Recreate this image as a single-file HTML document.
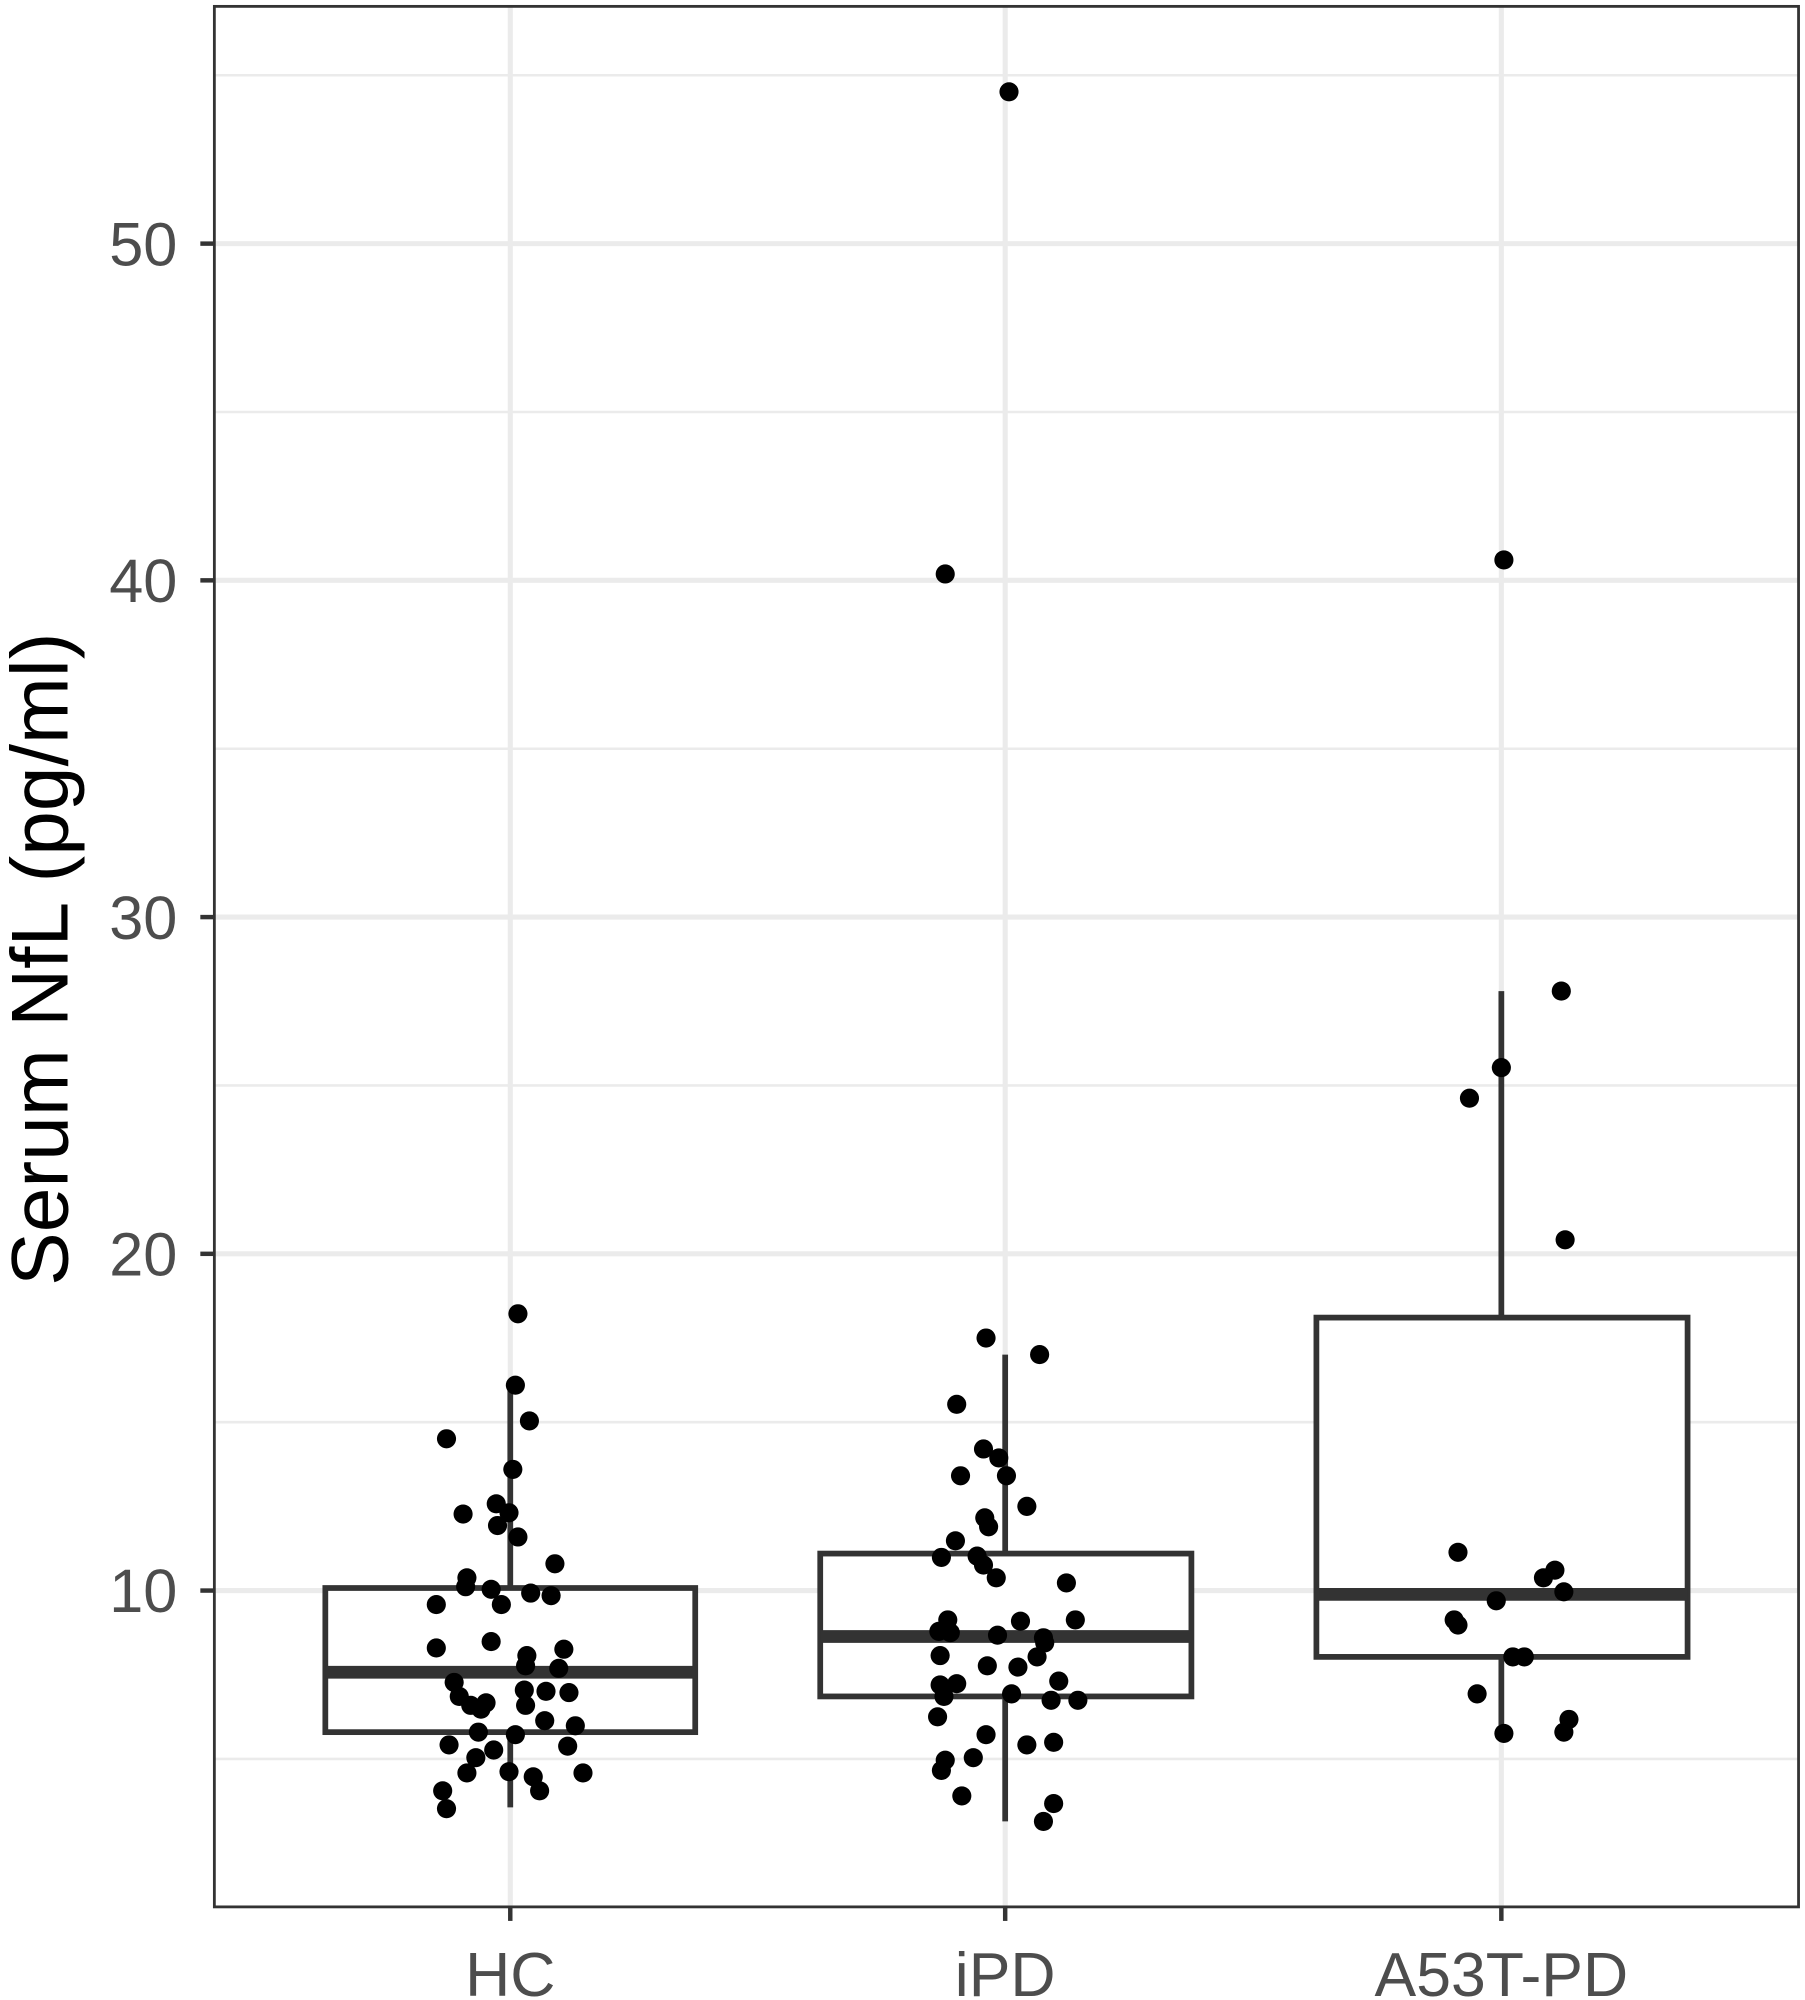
<!DOCTYPE html>
<html><head><style>html,body{margin:0;padding:0;background:#fff}svg{display:block}</style></head>
<body>
<svg width="1805" height="2000" viewBox="0 0 1415 1568" xmlns="http://www.w3.org/2000/svg" font-family="Liberation Sans, sans-serif">
<rect width="1415" height="1568" fill="#fff"/>
<g stroke="#ebebeb" stroke-width="2">
<line x1="168" x2="1410" y1="1379" y2="1379"/><line x1="168" x2="1410" y1="1115" y2="1115"/><line x1="168" x2="1410" y1="851" y2="851"/><line x1="168" x2="1410" y1="587" y2="587"/><line x1="168" x2="1410" y1="323" y2="323"/><line x1="168" x2="1410" y1="59" y2="59"/>
</g>
<g stroke="#ebebeb" stroke-width="4">
<line x1="168" x2="1410" y1="1247" y2="1247"/><line x1="168" x2="1410" y1="983" y2="983"/><line x1="168" x2="1410" y1="719" y2="719"/><line x1="168" x2="1410" y1="455" y2="455"/><line x1="168" x2="1410" y1="191" y2="191"/>
<line x1="400" x2="400" y1="5" y2="1495"/><line x1="788" x2="788" y1="5" y2="1495"/><line x1="1177" x2="1177" y1="5" y2="1495"/>
</g>
<g stroke="#333" stroke-width="4.5" fill="#fff">
<line x1="400" x2="400" y1="1417" y2="1087"/>
<rect x="255" y="1245" width="290" height="113"/>
<line x1="255" x2="545" y1="1311" y2="1311" stroke-width="10"/>
<line x1="788" x2="788" y1="1428" y2="1062"/>
<rect x="643" y="1218" width="291" height="112"/>
<line x1="643" x2="934" y1="1283" y2="1283" stroke-width="10"/>
<line x1="1177" x2="1177" y1="1358" y2="777"/>
<rect x="1032" y="1033" width="291" height="266"/>
<line x1="1032" x2="1323" y1="1250" y2="1250" stroke-width="10"/>
</g>
<g fill="#000">
<circle cx="406" cy="1030" r="7.5"/><circle cx="404" cy="1086" r="7.5"/><circle cx="415" cy="1114" r="7.5"/><circle cx="350" cy="1128" r="7.5"/><circle cx="402" cy="1152" r="7.5"/><circle cx="363" cy="1187" r="7.5"/><circle cx="389" cy="1179" r="7.5"/><circle cx="399" cy="1186" r="7.5"/><circle cx="390" cy="1196" r="7.5"/><circle cx="406" cy="1205" r="7.5"/><circle cx="435" cy="1226" r="7.5"/><circle cx="366" cy="1237" r="7.5"/><circle cx="365" cy="1244" r="7.5"/><circle cx="385" cy="1246" r="7.5"/><circle cx="416" cy="1249" r="7.5"/><circle cx="432" cy="1251" r="7.5"/><circle cx="342" cy="1258" r="7.5"/><circle cx="393" cy="1258" r="7.5"/><circle cx="385" cy="1287" r="7.5"/><circle cx="342" cy="1292" r="7.5"/><circle cx="442" cy="1293" r="7.5"/><circle cx="413" cy="1298" r="7.5"/><circle cx="412" cy="1306" r="7.5"/><circle cx="438" cy="1308" r="7.5"/><circle cx="356" cy="1319" r="7.5"/><circle cx="360" cy="1330" r="7.5"/><circle cx="428" cy="1326" r="7.5"/><circle cx="446" cy="1327" r="7.5"/><circle cx="411" cy="1325" r="7.5"/><circle cx="369" cy="1337" r="7.5"/><circle cx="381" cy="1335" r="7.5"/><circle cx="377" cy="1340" r="7.5"/><circle cx="412" cy="1337" r="7.5"/><circle cx="427" cy="1349" r="7.5"/><circle cx="451" cy="1353" r="7.5"/><circle cx="375" cy="1358" r="7.5"/><circle cx="404" cy="1360" r="7.5"/><circle cx="352" cy="1368" r="7.5"/><circle cx="445" cy="1369" r="7.5"/><circle cx="387" cy="1372" r="7.5"/><circle cx="373" cy="1378" r="7.5"/><circle cx="366" cy="1390" r="7.5"/><circle cx="399" cy="1389" r="7.5"/><circle cx="418" cy="1393" r="7.5"/><circle cx="457" cy="1390" r="7.5"/><circle cx="347" cy="1404" r="7.5"/><circle cx="423" cy="1404" r="7.5"/><circle cx="350" cy="1418" r="7.5"/>
<circle cx="791" cy="72" r="7.5"/><circle cx="741" cy="450" r="7.5"/><circle cx="773" cy="1049" r="7.5"/><circle cx="815" cy="1062" r="7.5"/><circle cx="750" cy="1101" r="7.5"/><circle cx="771" cy="1136" r="7.5"/><circle cx="783" cy="1143" r="7.5"/><circle cx="753" cy="1157" r="7.5"/><circle cx="789" cy="1157" r="7.5"/><circle cx="772" cy="1190" r="7.5"/><circle cx="775" cy="1197" r="7.5"/><circle cx="805" cy="1181" r="7.5"/><circle cx="749" cy="1208" r="7.5"/><circle cx="738" cy="1221" r="7.5"/><circle cx="766" cy="1220" r="7.5"/><circle cx="771" cy="1227" r="7.5"/><circle cx="781" cy="1237" r="7.5"/><circle cx="836" cy="1241" r="7.5"/><circle cx="743" cy="1270" r="7.5"/><circle cx="800" cy="1271" r="7.5"/><circle cx="843" cy="1270" r="7.5"/><circle cx="736" cy="1279" r="7.5"/><circle cx="745" cy="1280" r="7.5"/><circle cx="782" cy="1282" r="7.5"/><circle cx="818" cy="1284" r="7.5"/><circle cx="819" cy="1288" r="7.5"/><circle cx="737" cy="1298" r="7.5"/><circle cx="813" cy="1299" r="7.5"/><circle cx="774" cy="1306" r="7.5"/><circle cx="798" cy="1307" r="7.5"/><circle cx="737" cy="1321" r="7.5"/><circle cx="830" cy="1318" r="7.5"/><circle cx="750" cy="1320" r="7.5"/><circle cx="740" cy="1330" r="7.5"/><circle cx="793" cy="1328" r="7.5"/><circle cx="824" cy="1333" r="7.5"/><circle cx="845" cy="1333" r="7.5"/><circle cx="735" cy="1346" r="7.5"/><circle cx="773" cy="1360" r="7.5"/><circle cx="805" cy="1368" r="7.5"/><circle cx="826" cy="1366" r="7.5"/><circle cx="741" cy="1380" r="7.5"/><circle cx="763" cy="1378" r="7.5"/><circle cx="738" cy="1388" r="7.5"/><circle cx="754" cy="1408" r="7.5"/><circle cx="826" cy="1414" r="7.5"/><circle cx="818" cy="1428" r="7.5"/>
<circle cx="1179" cy="439" r="7.5"/><circle cx="1224" cy="777" r="7.5"/><circle cx="1177" cy="837" r="7.5"/><circle cx="1152" cy="861" r="7.5"/><circle cx="1227" cy="972" r="7.5"/><circle cx="1143" cy="1217" r="7.5"/><circle cx="1219" cy="1231" r="7.5"/><circle cx="1210" cy="1237" r="7.5"/><circle cx="1226" cy="1248" r="7.5"/><circle cx="1173" cy="1255" r="7.5"/><circle cx="1140" cy="1270" r="7.5"/><circle cx="1143" cy="1274" r="7.5"/><circle cx="1186" cy="1299" r="7.5"/><circle cx="1195" cy="1299" r="7.5"/><circle cx="1158" cy="1328" r="7.5"/><circle cx="1230" cy="1348" r="7.5"/><circle cx="1179" cy="1359" r="7.5"/><circle cx="1226" cy="1358" r="7.5"/>
</g>
<rect x="168" y="5" width="1242" height="1490" fill="none" stroke="#333" stroke-width="2.2"/>
<g stroke="#333" stroke-width="3.5">
<line x1="157" x2="168" y1="1247" y2="1247"/><line x1="157" x2="168" y1="983" y2="983"/><line x1="157" x2="168" y1="719" y2="719"/><line x1="157" x2="168" y1="455" y2="455"/><line x1="157" x2="168" y1="191" y2="191"/>
<line x1="400" x2="400" y1="1495" y2="1506"/><line x1="788" x2="788" y1="1495" y2="1506"/><line x1="1177" x2="1177" y1="1495" y2="1506"/>
</g>
<g fill="#4d4d4d" font-size="48" text-anchor="end">
<text x="139" y="1264">10</text><text x="139" y="1000">20</text><text x="139" y="736">30</text><text x="139" y="472">40</text><text x="139" y="208">50</text>
</g>
<g fill="#4d4d4d" font-size="49" text-anchor="middle">
<text x="400" y="1565">HC</text><text x="788" y="1565">iPD</text><text x="1177" y="1565">A53T-PD</text>
</g>
<text transform="translate(53,752) rotate(-90)" font-size="63" text-anchor="middle" fill="#000">Serum NfL (pg/ml)</text>
</svg>
</body></html>
